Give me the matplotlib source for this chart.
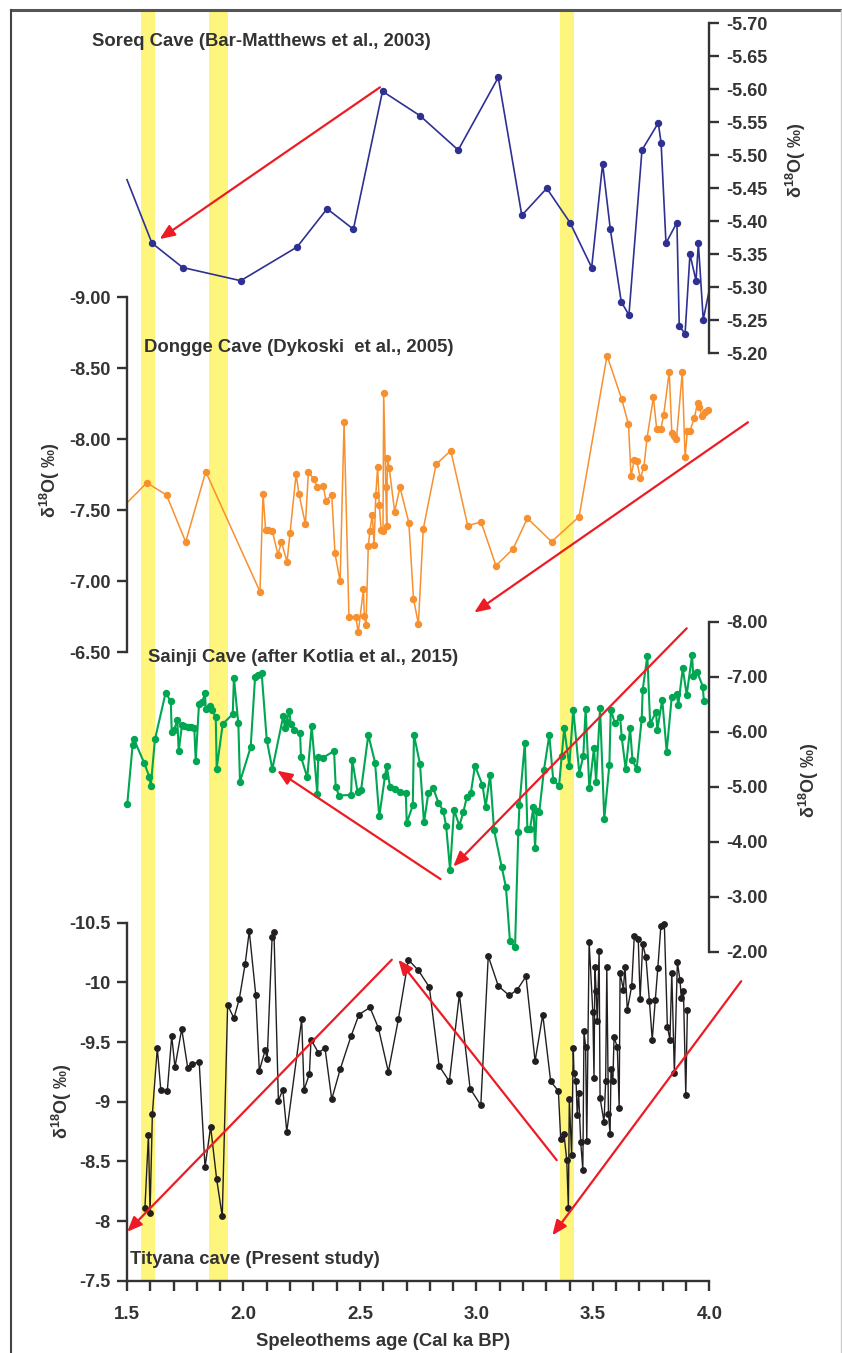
import numpy as np
import matplotlib
matplotlib.use('Agg')
import matplotlib.pyplot as plt
from matplotlib.ticker import MultipleLocator, FormatStrFormatter, FuncFormatter
from matplotlib.lines import Line2D

plt.rcParams['font.family'] = ['Liberation Sans', 'DejaVu Sans']
plt.rcParams['font.weight'] = 'bold'
plt.rcParams['mathtext.fontset'] = 'custom'
plt.rcParams['mathtext.rm'] = 'Liberation Sans:bold'
plt.rcParams['mathtext.default'] = 'rm'

# ---------------- data (age in cal ka BP, d18O permil) ----------------
soreq_age = [1.50, 1.607, 1.739, 1.988, 2.230, 2.359, 2.472, 2.597, 2.758, 2.922,
             3.094, 3.195, 3.302, 3.402, 3.495, 3.542, 3.575, 3.622, 3.655, 3.711,
             3.781, 3.793, 3.814, 3.861, 3.871, 3.896, 3.917, 3.943, 3.953, 3.974, 4.00]
soreq_d18o = [-5.463, -5.367, -5.330, -5.310, -5.361, -5.419, -5.388, -5.597, -5.560, -5.508,
              -5.618, -5.409, -5.450, -5.398, -5.330, -5.487, -5.388, -5.278, -5.258, -5.508,
              -5.549, -5.519, -5.367, -5.398, -5.241, -5.230, -5.350, -5.310, -5.367, -5.251, -5.296]

dongge_age = [1.501, 1.585, 1.670, 1.752, 1.838, 2.071, 2.084, 2.095, 2.107, 2.124,
              2.148, 2.163, 2.187, 2.200, 2.226, 2.238, 2.266, 2.279, 2.303, 2.317,
              2.343, 2.354, 2.379, 2.393, 2.415, 2.432, 2.453, 2.482, 2.493, 2.515,
              2.519, 2.526, 2.536, 2.543, 2.553, 2.561, 2.568, 2.576, 2.583, 2.591,
              2.599, 2.602, 2.611, 2.615, 2.618, 2.626, 2.649, 2.672, 2.710, 2.730,
              2.751, 2.772, 2.827, 2.890, 2.963, 3.020, 3.084, 3.157, 3.219, 3.323,
              3.441, 3.561, 3.624, 3.653, 3.664, 3.678, 3.688, 3.704, 3.719, 3.733,
              3.760, 3.774, 3.792, 3.804, 3.828, 3.839, 3.849, 3.859, 3.884, 3.896,
              3.906, 3.917, 3.936, 3.950, 3.957, 3.968, 3.982, 3.996]
dongge_d18o = [-7.554, -7.694, -7.607, -7.277, -7.772, -6.927, -7.617, -7.363, -7.361, -7.354,
               -7.187, -7.277, -7.138, -7.340, -7.756, -7.617, -7.403, -7.770, -7.718, -7.666,
               -7.669, -7.568, -7.608, -7.197, -7.000, -8.120, -6.746, -6.751, -6.641, -6.944,
               -6.756, -6.693, -7.249, -7.356, -7.469, -7.256, -7.606, -7.803, -7.540, -7.361,
               -7.357, -8.328, -7.662, -7.392, -7.871, -7.796, -7.490, -7.662, -7.413, -6.877,
               -6.701, -7.368, -7.824, -7.920, -7.392, -7.418, -7.110, -7.227, -7.444, -7.279,
               -7.455, -8.589, -8.282, -8.106, -7.742, -7.854, -7.849, -7.725, -7.805, -8.011,
               -8.296, -8.073, -8.073, -8.169, -8.476, -8.046, -8.023, -8.002, -8.472, -7.873,
               -8.058, -8.061, -8.152, -8.258, -8.225, -8.166, -8.190, -8.206]

sainji_age = [1.501, 1.524, 1.530, 1.573, 1.596, 1.602, 1.620, 1.666, 1.688, 1.692,
              1.702, 1.716, 1.722, 1.736, 1.746, 1.761, 1.775, 1.789, 1.795, 1.809,
              1.823, 1.835, 1.838, 1.856, 1.864, 1.881, 1.885, 1.911, 1.954, 1.959,
              1.978, 1.985, 2.031, 2.050, 2.061, 2.078, 2.100, 2.124, 2.171, 2.178,
              2.185, 2.197, 2.203, 2.217, 2.243, 2.247, 2.274, 2.293, 2.317, 2.321,
              2.343, 2.389, 2.396, 2.410, 2.462, 2.467, 2.490, 2.505, 2.536, 2.565,
              2.583, 2.608, 2.615, 2.629, 2.651, 2.672, 2.697, 2.701, 2.727, 2.732,
              2.758, 2.775, 2.794, 2.815, 2.837, 2.858, 2.870, 2.887, 2.904, 2.927,
              2.944, 2.959, 2.976, 2.994, 3.026, 3.040, 3.059, 3.076, 3.109, 3.127,
              3.144, 3.166, 3.180, 3.185, 3.208, 3.219, 3.230, 3.245, 3.252, 3.259,
              3.270, 3.290, 3.313, 3.330, 3.355, 3.366, 3.377, 3.399, 3.416, 3.442,
              3.459, 3.469, 3.485, 3.505, 3.514, 3.531, 3.549, 3.571, 3.577, 3.595,
              3.617, 3.624, 3.641, 3.660, 3.670, 3.688, 3.710, 3.714, 3.734, 3.746,
              3.771, 3.777, 3.798, 3.817, 3.839, 3.860, 3.867, 3.886, 3.903, 3.926,
              3.931, 3.948, 3.972, 3.977]
sainji_d18o = [-4.68, -5.75, -5.86, -5.44, -5.18, -5.01, -5.86, -6.71, -6.55, -6.00,
               -6.03, -6.21, -5.65, -6.12, -6.11, -6.09, -6.08, -6.06, -5.47, -6.50,
               -6.54, -6.70, -6.41, -6.47, -6.40, -6.27, -5.33, -6.14, -6.32, -6.98,
               -6.15, -5.09, -5.72, -7.00, -7.03, -7.07, -5.85, -5.32, -6.29, -6.07,
               -6.18, -6.38, -6.14, -6.04, -5.97, -5.54, -5.17, -6.10, -4.87, -5.54,
               -5.53, -5.65, -5.00, -4.84, -4.85, -5.49, -4.90, -4.94, -5.94, -5.44,
               -4.46, -5.20, -5.38, -5.00, -4.95, -4.91, -4.88, -4.34, -4.66, -5.94,
               -5.41, -4.35, -4.89, -4.97, -4.71, -4.56, -4.29, -3.49, -4.58, -4.29,
               -4.54, -4.81, -4.88, -5.38, -5.03, -4.64, -5.21, -4.21, -3.54, -3.17,
               -2.20, -2.08, -4.18, -4.67, -5.80, -4.23, -4.23, -4.63, -3.88, -4.56,
               -4.54, -5.30, -5.94, -5.12, -5.02, -5.55, -6.06, -5.38, -6.40, -5.24,
               -5.56, -6.41, -4.97, -5.71, -5.09, -6.43, -4.41, -5.40, -6.40, -6.15,
               -6.27, -5.90, -5.32, -6.06, -5.49, -5.32, -6.24, -6.76, -7.38, -6.14,
               -6.36, -6.04, -6.58, -5.64, -6.64, -6.69, -6.49, -7.15, -6.67, -7.39,
               -7.01, -7.09, -6.82, -6.55]

tityana_age = [1.577, 1.592, 1.599, 1.609, 1.630, 1.645, 1.673, 1.692, 1.706, 1.735,
               1.761, 1.778, 1.810, 1.835, 1.859, 1.885, 1.909, 1.932, 1.959, 1.982,
               2.007, 2.025, 2.053, 2.068, 2.093, 2.102, 2.123, 2.131, 2.150, 2.169,
               2.186, 2.250, 2.260, 2.283, 2.290, 2.322, 2.350, 2.379, 2.415, 2.462,
               2.496, 2.543, 2.579, 2.622, 2.665, 2.708, 2.751, 2.798, 2.840, 2.884,
               2.927, 2.973, 3.019, 3.051, 3.094, 3.141, 3.176, 3.213, 3.252, 3.285,
               3.319, 3.352, 3.362, 3.376, 3.388, 3.395, 3.399, 3.409, 3.416, 3.419,
               3.428, 3.433, 3.439, 3.448, 3.457, 3.462, 3.469, 3.474, 3.484, 3.500,
               3.505, 3.509, 3.514, 3.519, 3.527, 3.531, 3.548, 3.555, 3.560, 3.567,
               3.574, 3.578, 3.586, 3.591, 3.605, 3.613, 3.617, 3.631, 3.638, 3.648,
               3.667, 3.678, 3.695, 3.703, 3.714, 3.728, 3.743, 3.755, 3.768, 3.779,
               3.792, 3.807, 3.820, 3.831, 3.839, 3.850, 3.863, 3.874, 3.880, 3.889,
               3.899, 3.906]
tityana_d18o = [-8.11, -8.72, -8.07, -8.90, -9.45, -9.10, -9.09, -9.55, -9.29, -9.61,
                -9.28, -9.32, -9.33, -8.45, -8.79, -8.35, -8.04, -9.81, -9.70, -9.86,
                -10.15, -10.43, -9.89, -9.26, -9.43, -9.36, -10.38, -10.42, -9.01, -9.10,
                -8.75, -9.69, -9.10, -9.23, -9.52, -9.41, -9.45, -9.02, -9.27, -9.55,
                -9.73, -9.79, -9.62, -9.25, -9.69, -10.19, -10.10, -9.96, -9.30, -9.17,
                -9.90, -9.11, -8.97, -10.22, -9.97, -9.89, -9.94, -10.05, -9.34, -9.73,
                -9.17, -9.09, -8.69, -8.73, -8.51, -8.11, -9.02, -8.55, -9.45, -9.24,
                -9.17, -8.89, -9.07, -8.66, -8.43, -9.59, -9.46, -8.67, -10.34, -9.75,
                -9.20, -10.13, -9.93, -9.68, -10.26, -9.03, -8.83, -9.17, -10.13, -8.90,
                -8.73, -9.27, -9.17, -9.54, -9.46, -8.95, -10.08, -9.94, -10.13, -9.77,
                -9.97, -10.39, -10.36, -9.86, -10.32, -10.21, -9.84, -9.52, -9.85, -10.12,
                -10.47, -10.49, -9.63, -9.52, -10.08, -9.24, -10.17, -10.02, -9.87, -9.93,
                -9.06, -9.77]

# yellow event bands (ka)
bands = [(1.560, 1.620), (1.854, 1.934), (3.358, 3.418)]

# red trend arrows: (tail, head) in (age, d18O) of each record
soreq_arrows = [((2.586, -5.603), (1.640, -5.373))]
dongge_arrows = [((4.166, -8.12), (2.991, -6.78))]
sainji_arrows = [((2.846, -3.32), (2.145, -5.29)), ((3.903, -7.88), (2.901, -3.55))]
tityana_arrows = [((2.637, -10.19), (1.501, -7.91)), ((3.345, -8.51), (2.665, -10.19)),
                  ((4.137, -10.01), (3.326, -7.88))]

# ---------------- layout ----------------
W, H = 842, 1353
X0, X1 = 127, 709.3
GREY = '#333333'
RED = '#ed1c24'
YLAB = u'\u03b4$^{18}$O( \u2030)'

fig = plt.figure(figsize=(W / 100, H / 100), dpi=100, facecolor='white')


def box(top, bottom):
    return [X0 / W, 1 - bottom / H, (X1 - X0) / W, (bottom - top) / H]


def fxy(x, y):
    return x / W, 1 - y / H


def style(ax, side, ticks, fmt):
    ax.set_facecolor('none')
    ax.set_xlim(1.5, 4.0)
    for s in ['top', 'bottom', 'left', 'right']:
        ax.spines[s].set_visible(False)
    ax.spines[side].set_visible(True)
    ax.spines[side].set_color(GREY)
    ax.spines[side].set_linewidth(1.7)
    ax.xaxis.set_visible(False)
    if side == 'right':
        ax.yaxis.tick_right()
    ax.set_yticks(ticks)
    ax.yaxis.set_major_formatter(fmt)
    ax.tick_params(axis='y', direction='out', length=7, width=1.7, color=GREY,
                   labelsize=13, labelcolor=GREY, pad=5)


def arrow(ax, tail, head):
    ax.annotate('', xy=head, xytext=tail, annotation_clip=False, zorder=6,
                arrowprops=dict(arrowstyle='-|>,head_length=0.6,head_width=0.25',
                                color=RED, lw=1.6, shrinkA=0, shrinkB=0,
                                mutation_scale=15))


# background with the yellow bands
axb = fig.add_axes(box(10, 1280.7))
axb.set_xlim(1.5, 4.0)
axb.axis('off')
for a, b in bands:
    axb.axvspan(a, b, color='#fdf57c', lw=0)

# Soreq
ax1 = fig.add_axes(box(23.3, 353.3))
ax1.set_ylim(-5.20, -5.70)
style(ax1, 'right', np.arange(-5.70, -5.19, 0.05), FormatStrFormatter('%.2f'))
ax1.plot(soreq_age, soreq_d18o, color='#2e3192', lw=1.2, marker='o', ms=4.3,
         markevery=list(range(1, len(soreq_age) - 1)), clip_on=False)
for t, h in soreq_arrows:
    arrow(ax1, t, h)

# Dongge
ax2 = fig.add_axes(box(297.3, 652.3))
ax2.set_ylim(-6.5, -9.0)
style(ax2, 'left', np.arange(-9.0, -6.49, 0.5), FormatStrFormatter('%.2f'))
ax2.plot(dongge_age, dongge_d18o, color='#f7902f', lw=1.1, marker='o', ms=4.3,
         markevery=list(range(1, len(dongge_age))), clip_on=False)
for t, h in dongge_arrows:
    arrow(ax2, t, h)

# Sainji
ax3 = fig.add_axes(box(621.7, 951.7))
ax3.set_ylim(-2.0, -8.0)
style(ax3, 'right', np.arange(-8.0, -1.99, 1.0), FormatStrFormatter('%.2f'))
ax3.plot(sainji_age, sainji_d18o, color='#00a651', lw=1.5, marker='o', ms=4.3, clip_on=False)
for t, h in sainji_arrows:
    arrow(ax3, t, h)

# Tityana
ax4 = fig.add_axes(box(922.7, 1280.7))
ax4.set_ylim(-7.5, -10.5)
style(ax4, 'left', np.arange(-10.5, -7.49, 0.5), FuncFormatter(lambda v, p: '%g' % v))
ax4.xaxis.set_visible(True)
ax4.spines['bottom'].set_visible(True)
ax4.spines['bottom'].set_color(GREY)
ax4.spines['bottom'].set_linewidth(1.7)
ax4.xaxis.set_major_locator(MultipleLocator(0.5))
ax4.xaxis.set_minor_locator(MultipleLocator(0.1))
ax4.xaxis.set_major_formatter(FormatStrFormatter('%.1f'))
ax4.tick_params(axis='x', which='both', direction='out', length=7, width=1.7, color=GREY,
                labelsize=13.5, labelcolor=GREY, pad=11)
ax4.plot(tityana_age, tityana_d18o, color='#231f20', lw=1.0, marker='o', ms=3.9, clip_on=False)
for t, h in tityana_arrows:
    arrow(ax4, t, h)

# labels
txt = dict(fontsize=13.3, color=GREY, fontweight='bold', va='center', ha='left')
fig.text(*fxy(92, 41), 'Soreq Cave (Bar-Matthews et al., 2003)', **txt)
fig.text(*fxy(144, 348), 'Dongge Cave (Dykoski  et al., 2005)', **txt)
fig.text(*fxy(148, 658), 'Sainji Cave (after Kotlia et al., 2015)', **txt)
fig.text(*fxy(130, 1260), 'Tityana cave (Present study)', **txt)
fig.text(*fxy(383, 1342), 'Speleothems age (Cal ka BP)', fontsize=13.3, color=GREY,
         fontweight='bold', ha='center', va='center')

ylab = dict(fontsize=13, color=GREY, fontweight='bold', rotation=90, ha='center', va='center')
fig.text(*fxy(796, 160), YLAB, **ylab)
fig.text(*fxy(50, 480), YLAB, **ylab)
fig.text(*fxy(809, 780), YLAB, **ylab)
fig.text(*fxy(62, 1101), YLAB, **ylab)

# outer frame
fig.add_artist(Line2D([11 / W, 1], [1 - 9.5 / H, 1 - 9.5 / H], color='#555555', lw=2.2))
fig.add_artist(Line2D([11 / W, 11 / W], [0, 1 - 9.5 / H], color='#444444', lw=1.5))
fig.add_artist(Line2D([841 / W, 841 / W], [0, 1 - 9.5 / H], color='#cccccc', lw=1.0))

fig.savefig('out.png', dpi=100, facecolor='white')
